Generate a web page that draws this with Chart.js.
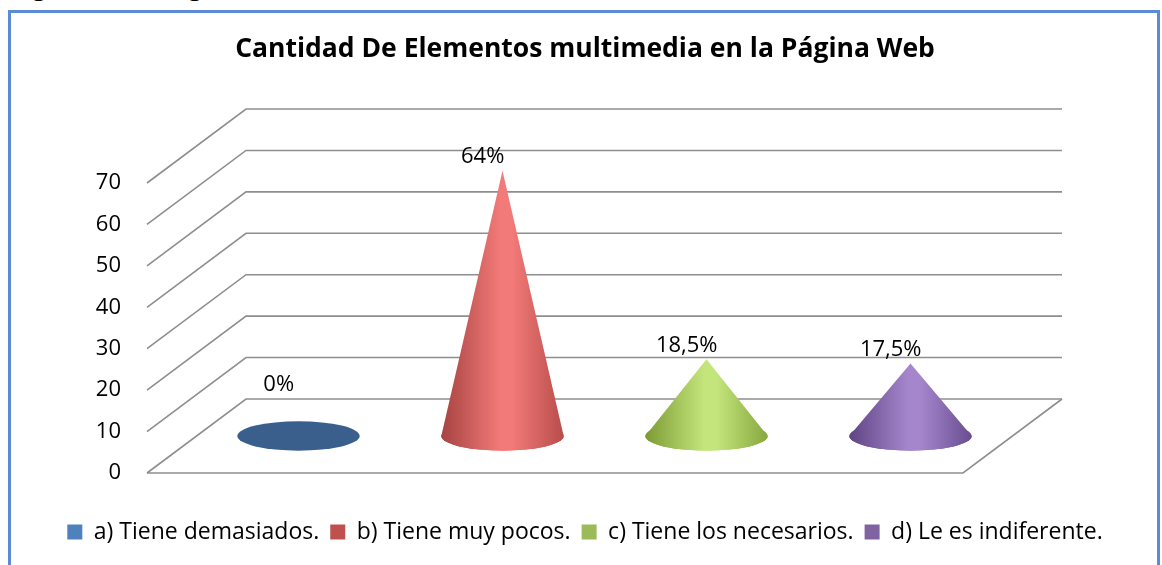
<!DOCTYPE html>
<html>
<head>
<meta charset="utf-8">
<title>Cantidad De Elementos multimedia en la Página Web</title>
<script src="https://cdn.jsdelivr.net/npm/chart.js@4.4.1/dist/chart.umd.min.js"></script>
<style>
  html, body { margin: 0; padding: 0; background: #fff; overflow: hidden; }
  #wrap { position: relative; width: 1162px; height: 565px; }
  #caption {
    position: absolute; left: 12px; top: -26px;
    font: bold 24px/24px 'Open Sans', sans-serif; color: #000; white-space: nowrap; word-spacing: 14px;
  }
  #frame {
    position: absolute; left: 8px; top: 10px; width: 1152px; height: 620px;
    box-sizing: border-box; border: 3px solid #5b8bd4;
  }
  #chart { position: absolute; left: 0; top: 0; }
</style>
</head>
<body>
<div id="wrap">
  <div id="caption">Figura 5: Pregunta (5) encuesta</div>
  <div id="frame"></div>
  <canvas id="chart" width="1162" height="565"></canvas>
</div>
<script>
// ---- data ----
const CATEGORIES = ['a) Tiene demasiados.', 'b) Tiene muy pocos.', 'c) Tiene los necesarios.', 'd) Le es indiferente.'];
const VALUES = [0, 64, 18.5, 17.5];
const Y_MIN = 0;
const Y_MAX = 70;
const Y_STEP = 10;
const TITLE = 'Cantidad De Elementos multimedia en la Página Web';

// ---- styles ----
const COLORS = ['#4f81bd', '#c0504d', '#9bbb59', '#8064a2'];
// left edge, highlight, right edge
const SHADES = [
  ['#3b5f8d', '#4a72a6', '#3d6291'],
  ['#a64341', '#f27a78', '#b84d4b'],
  ['#7d9b35', '#c3e57b', '#87a83e'],
  ['#5f4484', '#a586cd', '#684d8f']
];
const FONT = "'Open Sans', sans-serif";
const GRID = '#8e8e8e';
const DEPTH = { dx: 99, dy: -74 };

const fmt = v => String(v).replace('.', ',') + '%';

// 3D walls, cones and value labels, all placed through the chart scales
const cone3d = {
  id: 'cone3d',
  beforeDatasetsDraw(chart) {
    const ctx = chart.ctx;
    const ys = chart.scales.y;
    const { left, right, bottom } = chart.chartArea;
    ctx.save();
    ctx.strokeStyle = GRID;
    ctx.lineWidth = 1.6;
    ys.ticks.forEach(t => {
      const y = ys.getPixelForValue(t.value);
      ctx.beginPath();
      ctx.moveTo(left, y);
      ctx.lineTo(left + DEPTH.dx, y + DEPTH.dy);
      ctx.lineTo(right + DEPTH.dx, y + DEPTH.dy);
      ctx.stroke();
    });
    // floor
    ctx.beginPath();
    ctx.moveTo(left, bottom);
    ctx.lineTo(right, bottom);
    ctx.lineTo(right + DEPTH.dx, bottom + DEPTH.dy);
    ctx.stroke();
    ctx.restore();
  },
  afterDatasetsDraw(chart) {
    const ctx = chart.ctx;
    const meta = chart.getDatasetMeta(0);
    ctx.save();
    meta.data.forEach((bar, i) => {
      const cx = bar.x + DEPTH.dx / 2;
      const cy = bar.base + DEPTH.dy / 2;
      const tipY = bar.y + DEPTH.dy / 2;
      const rx = bar.width / 2;
      const ry = rx * 0.24;
      const sh = SHADES[i];

      const g = ctx.createLinearGradient(cx - rx, 0, cx + rx, 0);
      g.addColorStop(0, sh[0]);
      g.addColorStop(0.48, sh[1]);
      g.addColorStop(0.58, sh[1]);
      g.addColorStop(1, sh[2]);

      // base
      ctx.beginPath();
      ctx.ellipse(cx, cy, rx, ry, 0, 0, Math.PI * 2);
      ctx.fillStyle = tipY < cy - ry ? g : sh[0];
      ctx.fill();

      // body
      if (tipY < cy - ry) {
        ctx.beginPath();
        ctx.moveTo(cx, tipY);
        ctx.lineTo(cx - rx, cy);
        ctx.ellipse(cx, cy, rx, ry, 0, Math.PI, 0, true);
        ctx.closePath();
        ctx.fillStyle = g;
        ctx.fill();
      }

      // value label
      ctx.fillStyle = '#000';
      ctx.font = '22px ' + FONT;
      ctx.textAlign = 'center';
      ctx.textBaseline = 'middle';
      const ly = Math.min(tipY - 14, cy - 51);
      ctx.fillText(fmt(VALUES[i]), bar.x + DEPTH.dx * 0.3, ly);
    });
    ctx.restore();
  }
};

new Chart(document.getElementById('chart'), {
  type: 'bar',
  data: {
    labels: CATEGORIES,
    datasets: [{
      data: VALUES,
      backgroundColor: 'rgba(0,0,0,0)',
      borderWidth: 0,
      barPercentage: 0.6,
      categoryPercentage: 1
    }]
  },
  options: {
    responsive: false,
    animation: false,
    layout: { padding: { left: 8, right: 0, top: 0, bottom: 11.5 } },
    plugins: {
      tooltip: { enabled: false },
      title: {
        display: true,
        text: TITLE,
        color: '#000',
        font: { family: FONT, size: 26.5, weight: 'bold' },
        padding: { top: 33.5, bottom: 117.7 }
      },
      legend: {
        position: 'bottom',
        labels: {
          color: '#000',
          font: { family: FONT, size: 23 },
          boxWidth: 15,
          boxHeight: 15,
          padding: 11,
          generateLabels: () => CATEGORIES.map((c, i) => ({
            text: c,
            fillStyle: COLORS[i],
            strokeStyle: COLORS[i],
            lineWidth: 0,
            hidden: false,
            index: i,
            datasetIndex: 0
          }))
        }
      }
    },
    scales: {
      x: {
        type: 'category',
        grid: { display: false },
        border: { display: false },
        ticks: { display: false },
        afterFit: s => { s.height = 36.5; }
      },
      y: {
        min: Y_MIN,
        max: Y_MAX,
        grid: { display: false, drawTicks: false },
        border: { display: false },
        ticks: { stepSize: Y_STEP, padding: 26, color: '#000', font: { family: FONT, size: 22 } },
        afterFit: s => { s.width = 139; }
      },
      y2: {
        position: 'right',
        grid: { display: false, drawTicks: false },
        border: { display: false },
        ticks: { display: false },
        afterFit: s => { s.width = 199; }
      }
    }
  },
  plugins: [cone3d]
});
</script>
</body>
</html>
